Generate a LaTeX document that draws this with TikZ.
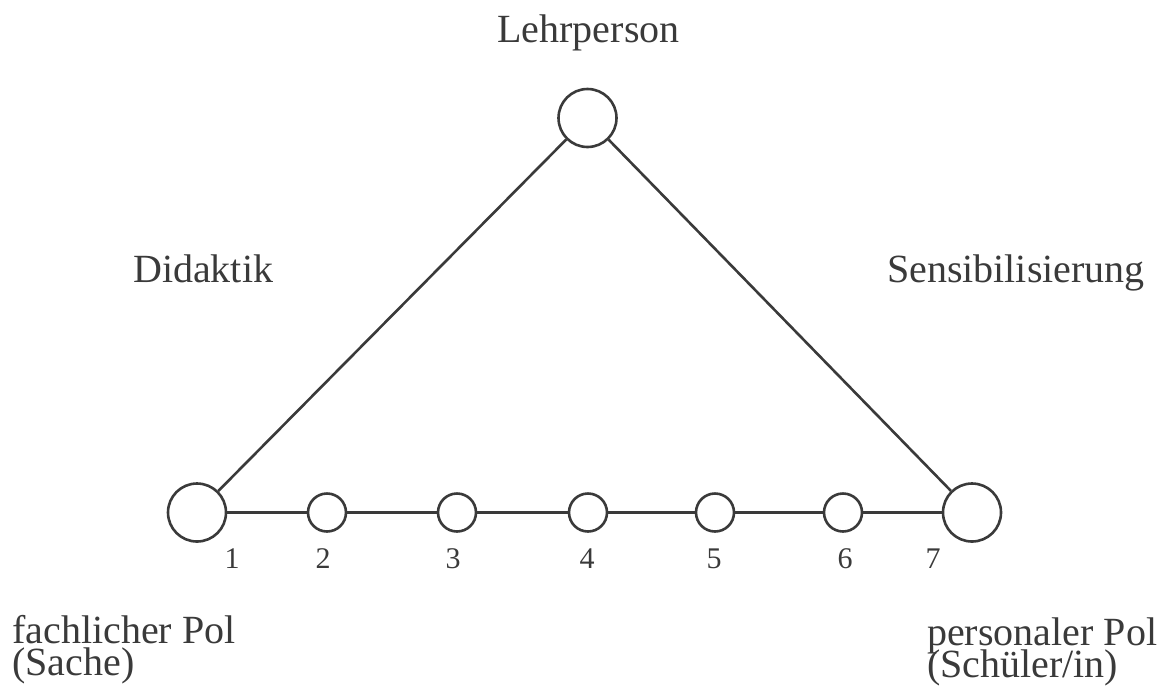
\documentclass[tikz,border=0pt]{standalone}
\usepackage{fontspec}
\setmainfont{Liberation Serif}
\definecolor{ink}{HTML}{3A3A3A}
\begin{document}
\begin{tikzpicture}[x=1pt,y=-1pt,
  big/.style={circle,draw=ink,line width=2.6pt,minimum size=58pt,inner sep=0pt},
  small/.style={circle,draw=ink,line width=2.6pt,minimum size=38pt,inner sep=0pt},
  conn/.style={draw=ink,line width=2.6pt},
  lbl/.style={text=ink,font=\fontsize{40}{40}\selectfont,inner sep=0pt},
  num/.style={text=ink,font=\fontsize{30}{30}\selectfont,inner sep=0pt,anchor=base}]
\useasboundingbox (0,0) rectangle (1166,689);
\node[big] (T) at (587.5,118) {};
\node[big] (L) at (197,512.5) {};
\node[big] (R) at (972,512.5) {};
\node[small] (c2) at (327,512.5) {};
\node[small] (c3) at (457,512.5) {};
\node[small] (c4) at (588,512.5) {};
\node[small] (c5) at (715,512.5) {};
\node[small] (c6) at (843,512.5) {};
\draw[conn] (T) -- (L);
\draw[conn] (T) -- (R);
\draw[conn] (L) -- (c2) -- (c3) -- (c4) -- (c5) -- (c6) -- (R);
\node[lbl,anchor=base] (tl) at (588.5,42) {Lehrperson};
\node[lbl,anchor=base west] (dl) at (133,282) {Didaktik};
\node[lbl,anchor=base east] (sl) at (1145,282) {Sensibilisierung};
\node[lbl,anchor=base west] (fl1) at (12,643) {fachlicher Pol};
\node[lbl,anchor=base west] (fl2) at (12,675) {(Sache)};
\node[lbl,anchor=base west] (pl1) at (927,645) {personaler Pol};
\node[lbl,anchor=base west] (pl2) at (927,677) {(Schüler/in)};
\node[num] (n1) at (232,568) {1};
\node[num] (n2) at (323,568) {2};
\node[num] (n3) at (453,568) {3};
\node[num] (n4) at (587,568) {4};
\node[num] (n5) at (714,568) {5};
\node[num] (n6) at (845,568) {6};
\node[num] (n7) at (933,568) {7};
\end{tikzpicture}
\end{document}
